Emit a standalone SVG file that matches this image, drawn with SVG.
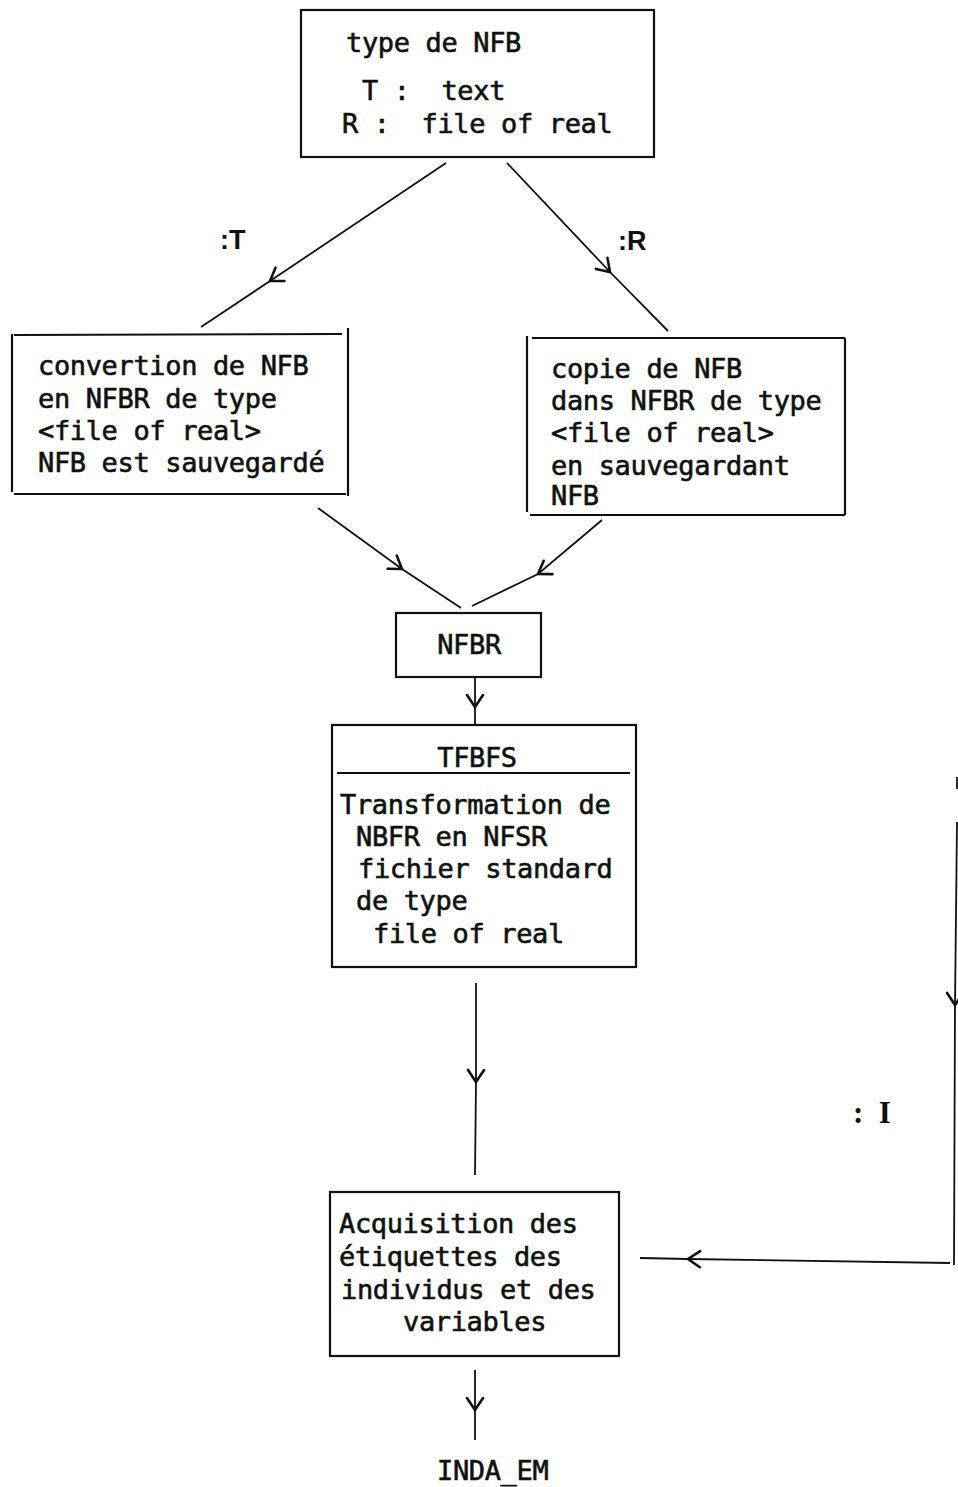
<svg xmlns="http://www.w3.org/2000/svg" width="958" height="1487" viewBox="0 0 958 1487">
<defs>
<style>
.box{fill:none;stroke:#111;stroke-width:2.2}
.t{font-family:"DejaVu Sans Mono","Liberation Mono",monospace;font-size:27px;letter-spacing:-0.35px;fill:#111;stroke:#111;stroke-width:0.6}
.c{fill:none;stroke:#111;stroke-width:1.8}
.lbl{font-family:"Liberation Sans",Arial,sans-serif;font-size:27px;font-weight:bold;fill:#111}
.ser{font-family:"Liberation Serif","Times New Roman",serif;font-size:31px;font-weight:bold;fill:#111}
</style>
<marker id="ah" viewBox="-14 -10 16 20" markerWidth="16" markerHeight="20" refX="0" refY="0" orient="auto" markerUnits="userSpaceOnUse">
<path d="M-12,-8 L0,0 L-12,8" fill="none" stroke="#111" stroke-width="2.6" stroke-linecap="round"/>
</marker>
</defs>
<rect width="958" height="1487" fill="#fff"/>

<g id="node-type">
<rect class="box" x="301" y="10" width="353" height="147"/>
<text class="t" x="346" y="52">type de NFB</text>
<text class="t" x="346" y="100" xml:space="preserve"> T :  text</text>
<text class="t" x="342" y="133" xml:space="preserve">R :  file of real</text>
</g>

<g id="node-convertion">
<path class="box" d="M12,334 L12,492 M14,335 L342,334 M348,328 L348,496 M14,494 L346,494"/>
<text class="t" x="38" y="375">convertion de NFB</text>
<text class="t" x="38" y="408">en NFBR de type</text>
<text class="t" x="38" y="440">&lt;file of real&gt;</text>
<text class="t" x="38" y="472">NFB est sauvegardé</text>
</g>

<g id="node-copie">
<path class="box" d="M527,336 L527,512 M532,338 L845,338 M845,338 L845,515 M530,515 L845,515"/>
<text class="t" x="551" y="378">copie de NFB</text>
<text class="t" x="551" y="410">dans NFBR de type</text>
<text class="t" x="551" y="442">&lt;file of real&gt;</text>
<text class="t" x="551" y="475">en sauvegardant</text>
<text class="t" x="551" y="505">NFB</text>
</g>

<g id="node-nfbr">
<rect class="box" x="396" y="613" width="145" height="64"/>
<text class="t" x="469" y="654" text-anchor="middle">NFBR</text>
</g>

<g id="node-tfbfs">
<rect class="box" x="332" y="725" width="304" height="242"/>
<line x1="337" y1="773" x2="630" y2="773" stroke="#111" stroke-width="1.8"/>
<text class="t" x="477" y="767" text-anchor="middle">TFBFS</text>
<text class="t" x="340" y="814">Transformation de</text>
<text class="t" x="356" y="846">NBFR en NFSR</text>
<text class="t" x="358" y="878">fichier standard</text>
<text class="t" x="356" y="910">de type</text>
<text class="t" x="373" y="943">file of real</text>
</g>

<g id="node-acquisition">
<rect class="box" x="330" y="1192" width="289" height="164"/>
<text class="t" x="339" y="1233">Acquisition des</text>
<text class="t" x="339" y="1266">étiquettes des</text>
<text class="t" x="341" y="1299">individus et des</text>
<text class="t" x="403" y="1331">variables</text>
</g>

<g id="node-indaem">
<text class="t" x="437" y="1480">INDA_EM</text>
</g>

<g id="connectors">
<path class="c" d="M446,163 L270,281 L201,327" marker-mid="url(#ah)"/>
<path class="c" d="M507,163 L610,272 L668,331" marker-mid="url(#ah)"/>
<path class="c" d="M318,508 L402,569 L461,608" marker-mid="url(#ah)"/>
<path class="c" d="M602,520 L538,574 L472,606" marker-mid="url(#ah)"/>
<path class="c" d="M475,677 L475,707 L475,725" marker-mid="url(#ah)" stroke-width="2.4"/>
<path class="c" d="M476,983 L476,1082 L475,1175" marker-mid="url(#ah)" stroke-width="2.4"/>
<path class="c" d="M475,1370 L475,1410 L475,1440" marker-mid="url(#ah)" stroke-width="2.4"/>
<path class="c" d="M957,777 L957,789" stroke-width="2"/>
<path class="c" d="M957,822 L955,1005 L954,1265" marker-mid="url(#ah)" stroke-width="2.8"/>
<path class="c" d="M950,1263 L688,1259 L640,1258" marker-mid="url(#ah)"/>
</g>

<g id="labels">
<text class="lbl" x="220" y="249">:T</text>
<text class="lbl" x="618" y="250">:R</text>
<text class="ser" x="853" y="1123" xml:space="preserve">:  I</text>
</g>
</svg>
